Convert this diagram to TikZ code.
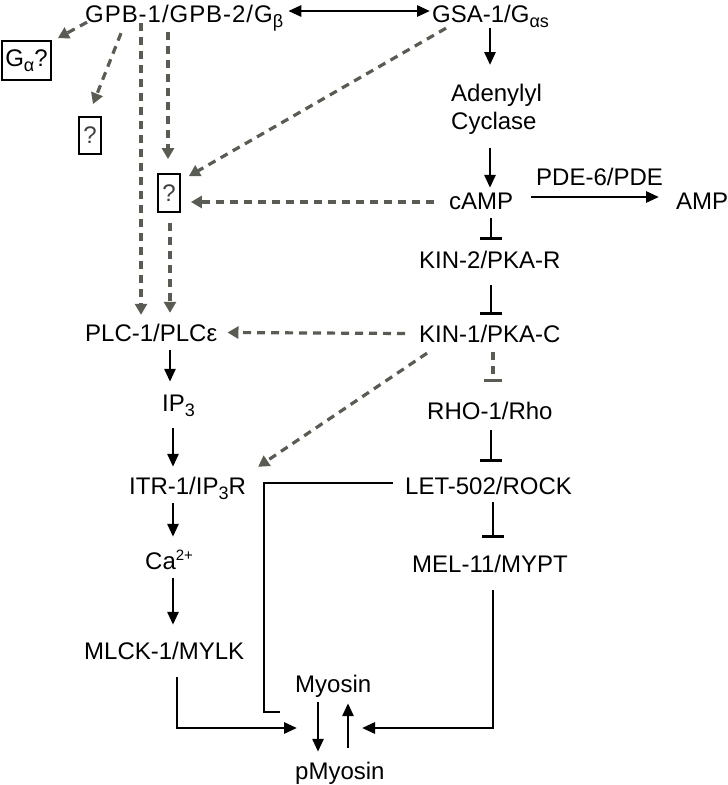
\documentclass[tikz,border=0pt]{standalone}
\usepackage{fontspec}
\setmainfont{Liberation Sans}
\usetikzlibrary{arrows.meta,calc}
\definecolor{dgray}{RGB}{88,92,82}
\newcommand\lowtxt[1]{\raisebox{-5pt}{\fontsize{18}{18}\selectfont #1}}
\newcommand\hightxt[1]{\raisebox{9pt}{\fontsize{15}{15}\selectfont #1}}
\begin{document}
\begin{tikzpicture}[x=1pt,y=-1pt,
  lbl/.style={inner sep=0pt, anchor=base west, text height=17pt, text depth=0pt, font=\fontsize{24}{28}\selectfont},
  qbox/.style={draw, line width=1.8pt, inner sep=0pt, font=\fontsize{24}{28}\selectfont},
  arr/.style={line width=2.8pt, -{Triangle[length=13pt,width=11pt]}},
  darrow/.style={line width=2.8pt, {Triangle[length=13pt,width=11pt]}-{Triangle[length=13pt,width=11pt]}},
  inh/.style={line width=2.8pt, -{Bar[width=22pt,line width=2.8pt]}},
  plainline/.style={line width=2.8pt},
  dar/.style={line width=3.2pt, dgray, dash pattern=on 8pt off 6pt, -{Triangle[length=11pt,width=12pt]}},
  dinh/.style={line width=3.2pt, dgray, dash pattern=on 8pt off 6pt, -{Bar[width=18pt,line width=3pt]}},
]
\useasboundingbox (0,0) rectangle (728,785);
\coordinate (colR) at (490,0);
\coordinate (colL) at (172,0);
\coordinate (myoL) at (297,728);
\coordinate (myoR) at (362,728);

% nodes
\node[lbl] (GPB) at (85,22) {\addfontfeatures{LetterSpace=4}GPB-1/GPB-2/G\lowtxt{β}};
\node[lbl] (GSA) at (432,22) {GSA-1/G\lowtxt{αs}};
\node[inner sep=0pt, anchor=north west, align=left, font=\fontsize{24}{28}\selectfont] (AC) at (451,84) {Adenylyl\\Cyclase};
\node[lbl] (cAMP) at (449,209) {cAMP};
\node[lbl] (PDE) at (536,185) {PDE-6/PDE};
\node[lbl] (AMP) at (676,209) {AMP};
\node[lbl] (KIN2) at (419,268) {KIN-2/PKA-R};
\node[lbl] (KIN1) at (419,342) {KIN-1/PKA-C};
\node[lbl] (PLC) at (85,341) {PLC-1/PLCε};
\node[lbl] (IP3) at (162,411) {IP\lowtxt{3}};
\node[lbl] (RHO) at (427,419) {RHO-1/Rho};
\node[lbl] (ITR) at (129,494) {ITR-1/IP\lowtxt{3}R};
\node[lbl] (LET) at (405,494) {LET-502/ROCK};
\node[lbl] (Ca) at (145,569) {Ca\hightxt{2+}};
\node[lbl] (MEL) at (412,572) {MEL-11/MYPT};
\node[lbl] (MLCK) at (84,659) {MLCK-1/MYLK};
\node[lbl] (Myo) at (295,692) {Myosin};
\node[lbl] (pMyo) at (295,779) {pMyosin};
\node[qbox, minimum width=49pt, minimum height=39pt] (Ga) at (26.5,60.5) {G\lowtxt{α}?};
\node[qbox, minimum width=22pt, minimum height=37pt, text=black!75] (Q2) at (90,135.5) {?};
\node[qbox, minimum width=22pt, minimum height=38pt, text=black!75] (Q3) at (169,193) {?};

% solid connectors
\draw[darrow] ([xshift=5pt,yshift=2.5pt]GPB.east) -- ([xshift=-2pt,yshift=2.5pt]GSA.west);
\draw[arr] ([yshift=-6pt]GSA.south -| colR) -- ([yshift=19pt]AC.north -| colR);
\draw[arr] ([yshift=-13pt]AC.south -| colR) -- ([yshift=4pt]cAMP.north -| colR);
\draw[arr] ([xshift=18pt,yshift=3.5pt]cAMP.east) -- ([xshift=-17pt,yshift=3.5pt]AMP.west);
\draw[inh] ([xshift=1pt,yshift=-9pt]cAMP.south -| colR) -- ([xshift=1pt,yshift=11pt]KIN2.north -| colR);
\draw[inh] ([xshift=1pt,yshift=-17pt]KIN2.south -| colR) -- ([xshift=1pt,yshift=10pt]KIN1.north -| colR);
\draw[inh] ([xshift=1pt,yshift=-11pt]RHO.south -| colR) -- ([xshift=1pt,yshift=15pt]LET.north -| colR);
\draw[inh] ([xshift=3pt,yshift=-8pt]LET.south -| colR) -- ([xshift=3pt,yshift=17pt]MEL.north -| colR);
\draw[arr] ([xshift=-2pt,yshift=-9pt]PLC.south -| colL) -- ([xshift=-2pt,yshift=12pt]IP3.north -| colL);
\draw[arr] ([xshift=1pt,yshift=-17pt]IP3.south -| colL) -- ([xshift=1pt,yshift=10pt]ITR.north -| colL);
\draw[arr] ([xshift=1pt,yshift=-9pt]ITR.south -| colL) -- ([xshift=1pt,yshift=15pt]Ca.north -| colL);
\draw[arr] ([xshift=1pt,yshift=-9pt]Ca.south -| colL) -- ([xshift=1pt,yshift=17pt]MLCK.north -| colL);
\draw[arr] ([xshift=5pt,yshift=-18pt]MLCK.south -| colL) |- (myoL);
\draw[plainline] ([xshift=-12pt,yshift=2.5pt]LET.west) -- ++(-129,0) |- ([xshift=-15pt,yshift=-28.5pt]Myo.west);
\draw[arr] ([xshift=3pt,yshift=-18pt]MEL.south -| colR) |- (myoR);
\draw[arr] ([xshift=23pt,yshift=-10pt]Myo.south west) -- ([xshift=23pt,yshift=10pt]pMyo.north west);
\draw[arr] ([xshift=53pt,yshift=14pt]pMyo.north west) -- ([xshift=53pt,yshift=-11pt]Myo.south west);

% dashed connectors
\draw[dar] ([xshift=2pt]GPB.south west) -- ([xshift=6pt,yshift=2pt]Ga.north east);
\draw[dar] ([xshift=36pt,yshift=-11pt]GPB.south west) -- ([xshift=3pt,yshift=12pt]Q2.north);
\draw[dar] ([xshift=83pt,yshift=-10pt]GPB.south west) -- ([xshift=-1pt,yshift=14pt]Q3.north);
\draw[dar] ([xshift=56pt,yshift=-1pt]GPB.south west) -- ([xshift=56pt,yshift=9pt]PLC.north west);
\draw[dar] ([xshift=14pt,yshift=-6pt]GSA.south west) -- ([xshift=8pt,yshift=-3pt]Q3.north east);
\draw[dar] ([xshift=-15pt,yshift=-1.5pt]cAMP.west) -- ([xshift=10pt,yshift=-9pt]Q3.east);
\draw[dar] ([xshift=1pt,yshift=-10pt]Q3.south) -- ([xshift=1pt,yshift=11pt]PLC.north -| Q3.south);
\draw[dar] ([xshift=-14pt]KIN1.west) -- ([xshift=10pt]PLC.east);
\draw[dar] ([xshift=8pt,yshift=-11pt]KIN1.south west) -- ([xshift=12pt,yshift=10pt]ITR.north east);
\draw[dinh] ([xshift=3pt,yshift=-10pt]KIN1.south -| colR) -- ([xshift=3pt,yshift=20pt]RHO.north -| colR);
\end{tikzpicture}
\end{document}
